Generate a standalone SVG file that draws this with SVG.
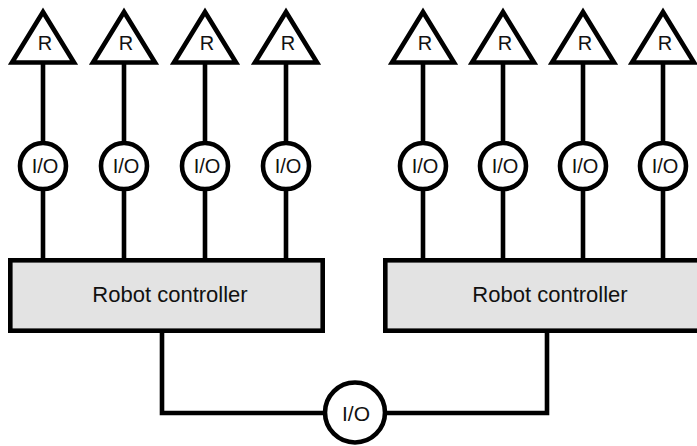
<svg xmlns="http://www.w3.org/2000/svg" width="697" height="446" viewBox="0 0 697 446">
<style>
.ln{stroke:#000;stroke-width:4.6;fill:none}
.tri{stroke:#000;stroke-width:4.6;fill:#fff;stroke-linejoin:miter}
.io{stroke:#000;stroke-width:4.6;fill:#fff}
.box{stroke:#000;stroke-width:4.6;fill:#e3e3e3}
.t{font-family:"Liberation Sans",Arial,sans-serif;fill:#111;text-anchor:middle}
</style>
<rect width="697" height="446" fill="#fff"/>
<g id="connectors">
<path class="ln" d="M43 62V258M124 62V258M205 62V258M286 62V258"/>
<path class="ln" d="M423 62V258M503 62V258M583 62V258M663 62V258"/>
<path class="ln" d="M162 333V413H547V333"/>
</g>
<g id="controller-left"><rect class="box" x="10.3" y="260.3" width="312.4" height="70.4"/><text class="t" x="170" y="302" font-size="22">Robot controller</text></g>
<g id="controller-right"><rect class="box" x="385.3" y="260.3" width="320" height="70.4"/><text class="t" x="550" y="302" font-size="22">Robot controller</text></g>
<g id="r1"><polygon class="tri" points="43,12 12,62.5 74,62.5"/><text class="t" x="45" y="50" font-size="20">R</text></g>
<g id="r2"><polygon class="tri" points="124,12 93,62.5 155,62.5"/><text class="t" x="126" y="50" font-size="20">R</text></g>
<g id="r3"><polygon class="tri" points="205,12 174,62.5 236,62.5"/><text class="t" x="207" y="50" font-size="20">R</text></g>
<g id="r4"><polygon class="tri" points="286,12 255,62.5 317,62.5"/><text class="t" x="288" y="50" font-size="20">R</text></g>
<g id="r5"><polygon class="tri" points="423,12 392,62.5 454,62.5"/><text class="t" x="425" y="50" font-size="20">R</text></g>
<g id="r6"><polygon class="tri" points="503,12 472,62.5 534,62.5"/><text class="t" x="505" y="50" font-size="20">R</text></g>
<g id="r7"><polygon class="tri" points="583,12 552,62.5 614,62.5"/><text class="t" x="585" y="50" font-size="20">R</text></g>
<g id="r8"><polygon class="tri" points="663,12 632,62.5 694,62.5"/><text class="t" x="665" y="50" font-size="20">R</text></g>
<g id="io1"><circle class="io" cx="43" cy="166" r="23"/><text class="t" x="45" y="173" font-size="20">I/O</text></g>
<g id="io2"><circle class="io" cx="124" cy="166" r="23"/><text class="t" x="126" y="173" font-size="20">I/O</text></g>
<g id="io3"><circle class="io" cx="205" cy="166" r="23"/><text class="t" x="207" y="173" font-size="20">I/O</text></g>
<g id="io4"><circle class="io" cx="286" cy="166" r="23"/><text class="t" x="288" y="173" font-size="20">I/O</text></g>
<g id="io5"><circle class="io" cx="423" cy="166" r="23"/><text class="t" x="425" y="173" font-size="20">I/O</text></g>
<g id="io6"><circle class="io" cx="503" cy="166" r="23"/><text class="t" x="505" y="173" font-size="20">I/O</text></g>
<g id="io7"><circle class="io" cx="583" cy="166" r="23"/><text class="t" x="585" y="173" font-size="20">I/O</text></g>
<g id="io8"><circle class="io" cx="663" cy="166" r="23"/><text class="t" x="665" y="173" font-size="20">I/O</text></g>
<g id="io-bottom"><circle class="io" cx="355" cy="412.5" r="30"/><text class="t" x="356" y="421" font-size="21">I/O</text></g>
</svg>
